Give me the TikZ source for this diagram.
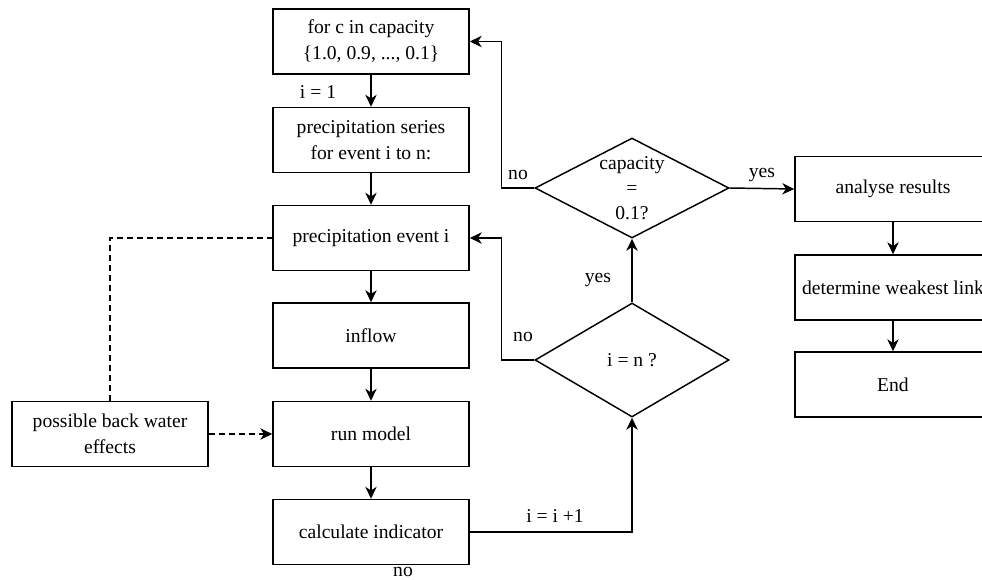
\documentclass[tikz,border=0pt]{standalone}
\usepackage{fontspec}
\setmainfont{Liberation Serif}
\usetikzlibrary{arrows.meta,shapes.geometric}
\begin{document}
\begin{tikzpicture}[x=0.75pt,y=-0.75pt, line width=1.1pt,
  every node/.style={font=\fontsize{14.7}{19.5}\selectfont},
  box/.style={draw, rectangle, minimum width=147pt, minimum height=48.75pt, inner sep=0pt, align=center, line width=1.1pt},
  dia/.style={draw, diamond, minimum width=145.5pt, inner sep=0pt, line width=1.1pt},
  arr/.style={-{Stealth[length=9pt,width=8.5pt,inset=2.8pt]}},
  dsh/.style={dash pattern=on 4.5pt off 3pt},
  lbl/.style={inner sep=0pt}]
\clip (0,0) rectangle (982,579);
% main column
\node[box] (b1) at (371,41.5) {for c in capacity\\\{1.0, 0.9, ..., 0.1\}};
\node[box] (b2) at (371,140) {precipitation series\\for event i to n:};
\node[box] (b3) at (371,238) {precipitation event i};
\node[box] (b4) at (371,335.5) {inflow};
\node[box] (b5) at (371,434) {run model};
\node[box] (b6) at (371,532) {calculate indicator};
% left box
\node[box] (lb) at (110,434) {possible back water\\effects};
% diamonds
\node[dia, minimum height=75pt] (d1) at (632,188) {};
\node[align=center, font=\fontsize{14.7}{18.5}\selectfont] (d1t) at (d1) {capacity\\=\\0.1?};
\node[dia, minimum height=85.5pt] (d2) at (632,360) {};
\node (d2t) at (d2) {i = n ?};
% right column
\node[box] (r1) at (893,189) {analyse results};
\node[box] (r2) at (893,287.5) {determine weakest link};
\node[box] (r3) at (893,384.5) {End};
% connectors
\draw[arr] (b1.south) -- (b2.north);
\draw[arr] (b2.south) -- (b3.north);
\draw[arr] (b3.south) -- (b4.north);
\draw[arr] (b4.south) -- (b5.north);
\draw[arr] (b5.south) -- (b6.north);
\draw[arr] (b6.east) -| (d2.south);
\draw[arr] (d2.north) -- (d1.south);
\draw[arr] (d2.west) -- ++(-33,0) |- (b3.east);
\draw[arr] (d1.west) -- ++(-33,0) |- (b1.east);
\draw[arr] (d1.east) -- (r1.west);
\draw[arr] (r1.south) -- (r2.north);
\draw[arr] (r2.south) -- (r3.north);
\draw[dsh] (lb.north) |- (b3.west);
\draw[dsh,arr] (lb.east) -- (b5.west);
% labels
\node[lbl] (l1) at (318,92) {i = 1};
\node[lbl] (l2) at (518,175) {no};
\node[lbl] (l3) at (762,175) {yes};
\node[lbl] (l4) at (598,280) {yes};
\node[lbl] (l5) at (523,337) {no};
\node[lbl] (l6) at (555,516) {i = i +1};
\node[lbl] (l7) at (403,572) {no};
\end{tikzpicture}
\end{document}
